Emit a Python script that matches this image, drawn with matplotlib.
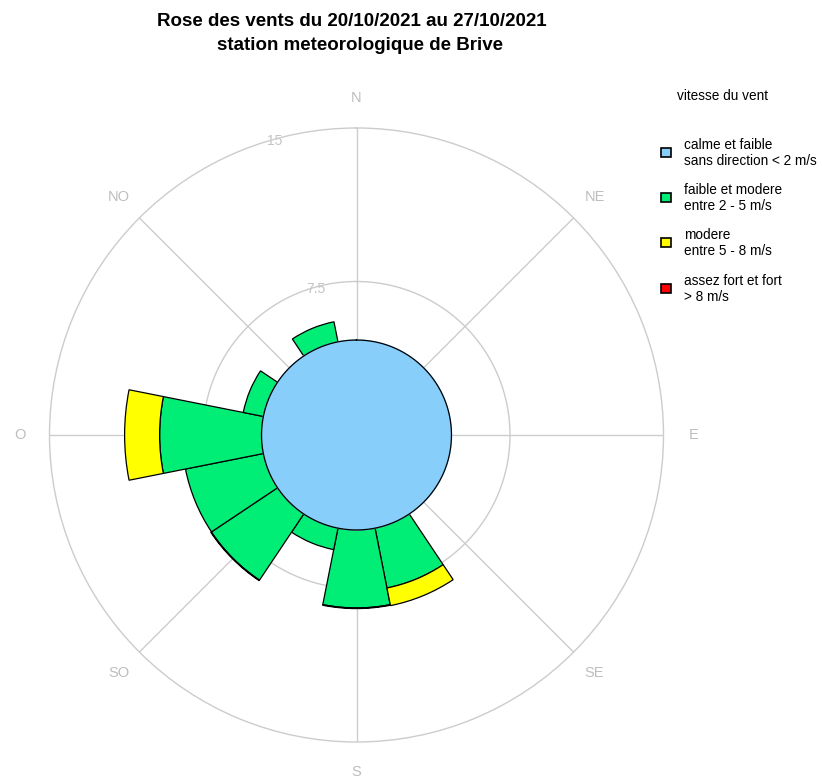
import numpy as np
import matplotlib
matplotlib.use("Agg")
import matplotlib.pyplot as plt
from matplotlib.patches import Rectangle

plt.rcParams['font.family'] = ['Liberation Sans', 'DejaVu Sans']

# ---- data ----
directions = ["N", "NNE", "NE", "ENE", "E", "ESE", "SE", "SSE",
              "S", "SSW", "SW", "WSW", "W", "WNW", "NW", "NNW"]
calm = 4.64  # calm and weak (no direction) < 2 m/s
faible_modere = [0, 0, 0, 0, 0, 0, 0, 2.98, 3.81, 1.07, 3.89, 3.88, 4.98, 1.0, 0, 1.0]
modere = [0, 0, 0, 0, 0, 0, 0, 0.88, 0.03, 0, 0.03, 0, 1.71, 0, 0, 0]
fort = [0] * 16
label_dirs = ["N", "NE", "E", "SE", "S", "SO", "O", "NO"]
grid_values = [7.5, 15]
legend_labels = ["calme et faible\nsans direction < 2 m/s",
                 "faible et modere\nentre 2 - 5 m/s",
                 "modere\nentre 5 - 8 m/s",
                 "assez fort et fort\n> 8 m/s"]
colors = ["#87CEFA", "#00EE76", "#FFFF00", "#FF0000"]
title = "Rose des vents du 20/10/2021 au 27/10/2021\nstation meteorologique de Brive"

W, H = 822, 781
fig = plt.figure(figsize=(W / 100, H / 100), dpi=100)
cx, cy, R = 356.5, 435, 307
ax = fig.add_axes([(cx - R) / W, (H - cy - R) / H, 2 * R / W, 2 * R / H], projection='polar')
ax.set_theta_zero_location('N')
ax.set_theta_direction(-1)
rmax = grid_values[-1]
ax.set_ylim(0, rmax)
ax.set_xticks([])
ax.set_yticks([])
ax.grid(False)
ax.spines['polar'].set_color('#cccccc')
ax.spines['polar'].set_linewidth(1.0)

gcol = '#cccccc'
# spokes
for k in range(8):
    th = np.deg2rad(45 * k)
    ax.plot([th, th], [0, rmax], color=gcol, lw=1.0, zorder=1)
# grid circles
tt = np.linspace(0, 2 * np.pi, 400)
for g in grid_values[:-1]:
    ax.plot(tt, np.full_like(tt, g), color=gcol, lw=1.0, zorder=1)
# radial labels
for g in grid_values:
    ax.text(np.deg2rad(344.5), g - 0.1, f"{g:g}", color='#c4c4c4', fontsize=10,
            ha='center', va='center', zorder=1)
# direction labels
for k, lab in enumerate(label_dirs):
    ax.text(np.deg2rad(45 * k), 16.45, lab, color='#bdbdbd', fontsize=10.5,
            ha='center', va='center', clip_on=False)

theta = np.deg2rad(np.arange(16) * 22.5)
width = np.deg2rad(22.5)
fm = np.array(faible_modere)
mo = np.array(modere)
fo = np.array(fort)
m = fm > 0
ax.bar(theta[m], fm[m], width=width, bottom=calm, color=colors[1], edgecolor='black', lw=0.9, zorder=3)
m = mo > 0
ax.bar(theta[m], mo[m], width=width, bottom=calm + fm[m], color=colors[2], edgecolor='black', lw=0.9, zorder=3)
m = fo > 0
if m.any():
    ax.bar(theta[m], fo[m], width=width, bottom=calm + fm[m] + mo[m], color=colors[3], edgecolor='black', lw=0.9, zorder=3)
# calm circle
ax.fill(tt, np.full_like(tt, calm), color=colors[0], zorder=4)
ax.plot(tt, np.full_like(tt, calm), color='black', lw=0.9, zorder=5)

# title
fig.text(352 / W, 1 - 22 / H, title.split("\n")[0], ha='center', va='center', fontsize=13.5, fontweight='bold')
fig.text(360 / W, 1 - 45 / H, title.split("\n")[1], ha='center', va='center', fontsize=13.5, fontweight='bold')

# legend
fig.text(722 / W, 1 - 96 / H, "vitesse du vent", ha='center', va='center', fontsize=9.8)
ys = [153, 198, 243, 289]
for y, lab, c in zip(ys, legend_labels, colors):
    fig.patches.append(Rectangle(((661) / W, 1 - (y + 4) / H), 10 / W, 9 / H,
                                 transform=fig.transFigure, facecolor=c, edgecolor='black', lw=1.2))
    fig.text(684 / W, 1 - y / H, lab, ha='left', va='center', fontsize=9.8, linespacing=1.2)

fig.savefig("out.png", dpi=100, facecolor='white')
